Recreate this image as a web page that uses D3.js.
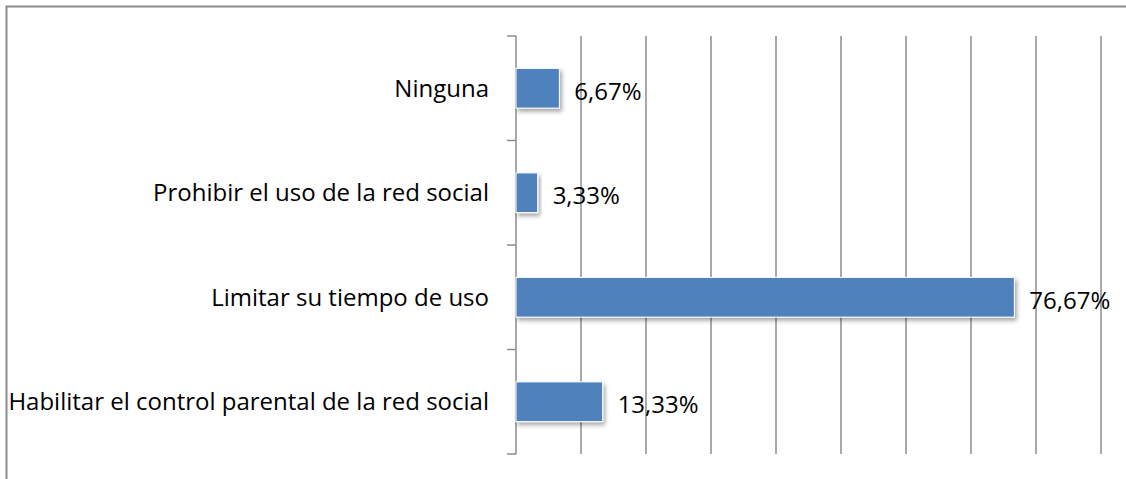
<!DOCTYPE html>
<html>
<head>
<meta charset="utf-8">
<script src="https://cdn.jsdelivr.net/npm/d3@7"></script>
<style>
  body { margin: 0; background: #fff; }
  svg { display: block; }
  text { font-family: "Open Sans", "Noto Sans", sans-serif; fill: #000; }
</style>
</head>
<body>
<svg></svg>
<script>
var categories = ["Ninguna", "Prohibir el uso de la red social", "Limitar su tiempo de uso", "Habilitar el control parental de la red social"];
var values = [6.67, 3.33, 76.67, 13.33];
var valueLabels = ["6,67%", "3,33%", "76,67%", "13,33%"];
var gridTicks = [0, 10, 20, 30, 40, 50, 60, 70, 80, 90];

var width = 1126;
var height = 479;

var data = categories.map((c, i) => ({name: c, value: values[i], label: valueLabels[i]}));

var svg = d3.select("svg")
              .attr("width", width)
              .attr("height", height);

// drop shadow for the bars
var defs = svg.append("defs");
var shadow = defs.append("filter")
    .attr("id", "shadow")
    .attr("x", "-10%").attr("y", "-20%")
    .attr("width", "130%").attr("height", "160%");
shadow.append("feDropShadow")
    .attr("dx", 2).attr("dy", 3)
    .attr("stdDeviation", 2)
    .attr("flood-color", "#000")
    .attr("flood-opacity", 0.35);

// outer frame (cut by the page on the right and bottom)
svg.append("rect")
    .attr("x", 6.5).attr("y", 6.5)
    .attr("width", 1200).attr("height", 600)
    .attr("fill", "none")
    .attr("stroke", "#8c8c8c")
    .attr("stroke-width", 2);

var xScale = d3.scaleLinear()
                  .domain([0, 90])
                  .range([516, 1101]);

var yScale = d3.scaleBand()
                  .domain(categories)
                  .range([36, 454])
                  .paddingInner(0.62)
                  .paddingOuter(0.31);

// vertical gridlines
svg.append("g")
    .selectAll("line")
    .data(gridTicks.slice(1))
    .enter()
    .append("line")
      .attr("x1", d => xScale(d))
      .attr("x2", d => xScale(d))
      .attr("y1", 36)
      .attr("y2", 454)
      .attr("stroke", "#8c8c8c")
      .attr("stroke-width", 1.5);

// category axis with ticks between bands
var boundaries = [36].concat(categories.map(c => yScale(c) + yScale.bandwidth() + yScale.step() * yScale.paddingInner() / 2));
boundaries[boundaries.length - 1] = 454;

var axis = svg.append("g");
axis.append("line")
    .attr("x1", 516).attr("x2", 516)
    .attr("y1", 36).attr("y2", 454)
    .attr("stroke", "#8c8c8c")
    .attr("stroke-width", 1.5);
axis.selectAll(".tick")
    .data(boundaries)
    .enter()
    .append("line")
      .attr("x1", 507).attr("x2", 516)
      .attr("y1", d => d).attr("y2", d => d)
      .attr("stroke", "#8c8c8c")
      .attr("stroke-width", 1.5);

// bars
svg.append("g")
    .selectAll("rect")
    .data(data)
    .enter()
    .append("rect")
      .attr("x", xScale(0))
      .attr("y", d => yScale(d.name))
      .attr("width", d => xScale(d.value) - xScale(0))
      .attr("height", yScale.bandwidth())
      .attr("fill", "#4f81bd")
      .attr("stroke", "#fff")
      .attr("stroke-width", 1)
      .attr("filter", "url(#shadow)");

// category labels
svg.append("g")
    .selectAll("text")
    .data(data)
    .enter()
    .append("text")
      .attr("x", 489)
      .attr("y", d => yScale(d.name) + yScale.bandwidth() / 2)
      .attr("dy", "0.35em")
      .attr("text-anchor", "end")
      .style("font-size", "24px")
      .text(d => d.name);

// value labels
svg.append("g")
    .selectAll("text")
    .data(data)
    .enter()
    .append("text")
      .attr("x", d => xScale(d.value) + 15)
      .attr("y", d => yScale(d.name) + yScale.bandwidth() / 2 + 3)
      .attr("dy", "0.35em")
      .style("font-size", "24px")
      .text(d => d.label);
</script>
</body>
</html>
